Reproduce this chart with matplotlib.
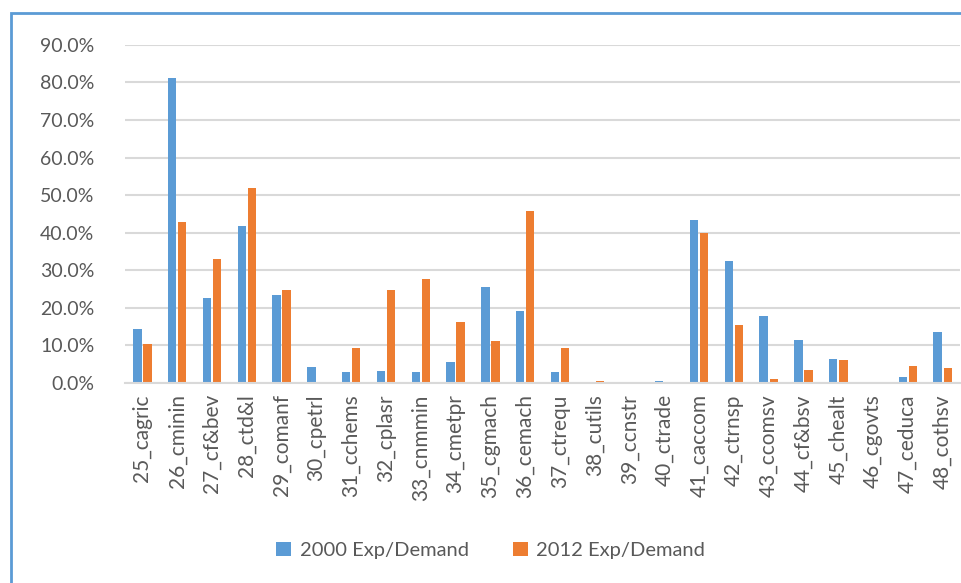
import numpy as np
import matplotlib.pyplot as plt
from matplotlib.patches import Rectangle
from matplotlib.ticker import PercentFormatter

plt.rcParams['font.family'] = ['Lato', 'DejaVu Sans']

sectors = ["25_cagric", "26_cminin", "27_cf&bev", "28_ctd&l", "29_comanf", "30_cpetrl",
           "31_cchems", "32_cplasr", "33_cnmmin", "34_cmetpr", "35_cgmach", "36_cemach",
           "37_ctrequ", "38_cutils", "39_ccnstr", "40_ctrade", "41_caccom", "42_ctrnsp",
           "43_ccomsv", "44_cf&bsv", "45_chealt", "46_cgovts", "47_ceduca", "48_cothsv"]
exp2000 = [14.5, 81.3, 22.7, 41.8, 23.4, 4.3, 2.9, 3.3, 2.9, 5.6, 25.5, 19.3,
           2.9, 0.0, 0.0, 0.6, 43.5, 32.6, 17.9, 11.4, 6.3, 0.0, 1.5, 13.5]
exp2012 = [10.3, 42.8, 32.9, 52.0, 24.8, 0.0, 9.4, 24.8, 27.8, 16.2, 11.1, 45.8,
           9.4, 0.6, 0.0, 0.0, 39.8, 15.5, 1.2, 3.6, 6.0, 0.0, 4.6, 4.0]
series_names = ["2000 Exp/Demand", "2012 Exp/Demand"]

blue = "#5B9BD5"
orange = "#ED7D31"
grey = "#595959"

fig = plt.figure(figsize=(9.62, 5.83), dpi=100)
ax = fig.add_axes([0.130, 0.343, 0.868, 0.580])

x = np.arange(len(sectors))
w = 0.24
ax.bar(x - 0.145, exp2000, w, color=blue, label=series_names[0])
ax.bar(x + 0.145, exp2012, w, color=orange, label=series_names[1])

ax.set_xlim(-0.5, len(sectors) - 0.5)
ax.set_ylim(0, 90)
ax.set_yticks(np.arange(0, 91, 10))
ax.yaxis.set_major_formatter(PercentFormatter(decimals=1))
ax.set_xticks(x)
ax.set_xticklabels(sectors, rotation=90)
ax.tick_params(axis="both", length=0, colors=grey)
ax.tick_params(axis="y", labelsize=14, pad=22)
ax.tick_params(axis="x", labelsize=15, pad=8)

ax.grid(axis="y", color="#D9D9D9", linewidth=1.5)
ax.set_axisbelow(True)
for s in ["top", "right", "left"]:
    ax.spines[s].set_visible(False)
ax.spines["bottom"].set_color("#D9D9D9")
ax.spines["bottom"].set_linewidth(1.5)

fig.legend(loc="center", bbox_to_anchor=(0.51, 0.056), ncol=2, frameon=False,
           fontsize=14.5, labelcolor=grey, handlelength=0.75, handleheight=0.75,
           handletextpad=0.4, columnspacing=2.2)

# chart frame (left and top edges visible)
fig.add_artist(Rectangle((11 / 962, -0.2), 1.2, 1.2 - 13 / 583,
                         transform=fig.transFigure, fill=False,
                         edgecolor="#5B9BD5", linewidth=2))

fig.savefig("out.png", dpi=100)
